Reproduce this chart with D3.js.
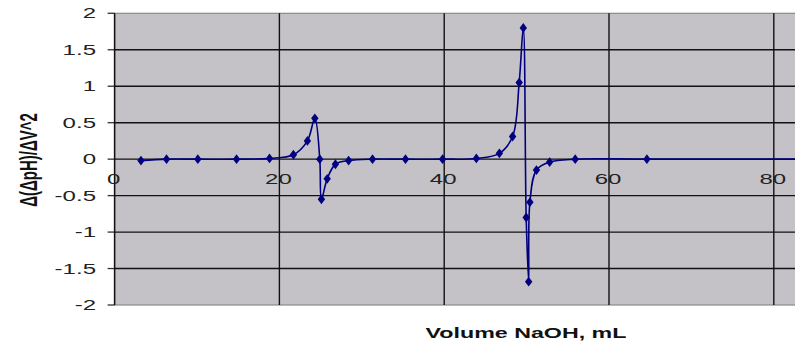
<!DOCTYPE html>
<html>
<head>
<meta charset="utf-8">
<script src="https://cdn.jsdelivr.net/npm/d3@7"></script>
<style>
  html, body { margin: 0; padding: 0; background: #fff; }
  svg { display: block; }
  text { font-family: "Liberation Sans", Arial, sans-serif; }
</style>
</head>
<body>
<svg id="chart" width="795" height="349"></svg>
<script>
// Second derivative of a titration curve: Δ(ΔpH)/ΔV² against volume of NaOH added
const volume = [3.2, 6.3, 10.1, 14.8, 18.8, 21.7, 23.4, 24.3, 24.9, 25.1, 25.8, 26.8, 28.4,
                31.3, 35.3, 39.8, 43.9, 46.7, 48.3, 49.1, 49.6, 49.95, 50.25, 50.4, 51.2,
                52.8, 55.9, 64.6, 90];
const secondDeriv = [-0.02, 0, 0, 0, 0.01, 0.06, 0.25, 0.56, 0, -0.55, -0.27, -0.07, -0.02,
                     0, 0, 0, 0.01, 0.08, 0.31, 1.05, 1.80, -0.80, -1.68, -0.59, -0.15,
                     -0.04, 0, 0, 0];
const xTicks = [0, 20, 40, 60, 80];
const yTicks = [2, 1.5, 1, 0.5, 0, -0.5, -1, -1.5, -2];

const svg = d3.select("#chart");
const plot = { left: 114.6, top: 13.3, bottom: 305, right: 815 };
const stretch = 1.55;

const x = d3.scaleLinear().domain([0, 85]).range([plot.left, plot.right]);
const y = d3.scaleLinear().domain([-2, 2]).range([plot.bottom, plot.top]);

// plot background
svg.append("rect")
  .attr("x", plot.left).attr("y", plot.top)
  .attr("width", plot.right - plot.left).attr("height", plot.bottom - plot.top)
  .attr("fill", "#c4c2c6").attr("stroke", "#8a8a8a").attr("stroke-width", 1.2);

// horizontal gridlines plus left ticks
svg.append("g").selectAll("line")
  .data(yTicks.filter(d => d !== 2 && d !== -2))
  .join("line")
  .attr("x1", plot.left).attr("x2", plot.right)
  .attr("y1", d => y(d)).attr("y2", d => y(d))
  .attr("stroke", "#111").attr("stroke-width", 1.4);

svg.append("g").selectAll("line")
  .data(yTicks)
  .join("line")
  .attr("x1", plot.left - 7).attr("x2", plot.left)
  .attr("y1", d => y(d)).attr("y2", d => y(d))
  .attr("stroke", "#333").attr("stroke-width", 1.3);

// vertical gridlines
svg.append("g").selectAll("line")
  .data(xTicks.filter(d => d > 0))
  .join("line")
  .attr("x1", d => x(d)).attr("x2", d => x(d))
  .attr("y1", plot.top).attr("y2", plot.bottom)
  .attr("stroke", "#111").attr("stroke-width", 1.4);

// value axis line
svg.append("line")
  .attr("x1", plot.left).attr("x2", plot.left)
  .attr("y1", plot.top).attr("y2", plot.bottom)
  .attr("stroke", "#111").attr("stroke-width", 1.5);

// y tick labels
svg.append("g").selectAll("text")
  .data(yTicks)
  .join("text")
  .attr("transform", d => `translate(96,${y(d) + 1}) scale(${stretch},1)`)
  .attr("text-anchor", "end")
  .attr("dominant-baseline", "middle")
  .attr("font-size", 15.5)
  .attr("fill", "#222")
  .text(d => d3.format("")(d).replace("\u2212", "-"));

// x tick labels, sitting just under the zero line
svg.append("g").selectAll("text")
  .data(xTicks)
  .join("text")
  .attr("transform", d => `translate(${x(d) - 1},${y(0) + 25}) scale(${stretch},1)`)
  .attr("text-anchor", "middle")
  .attr("font-size", 15.5)
  .attr("fill", "#222")
  .text(d => d);

// data series
svg.append("clipPath").attr("id", "plotClip")
  .append("rect")
  .attr("x", plot.left).attr("y", plot.top - 6)
  .attr("width", plot.right - plot.left).attr("height", plot.bottom - plot.top + 12);

const pts = volume.map((v, i) => [v, secondDeriv[i]]);
const line = d3.line()
  .x(d => x(d[0])).y(d => y(d[1]))
  .curve(d3.curveCatmullRom.alpha(0.5));

const series = svg.append("g").attr("clip-path", "url(#plotClip)");
series.append("path")
  .attr("d", line(pts))
  .attr("fill", "none")
  .attr("stroke", "#000080")
  .attr("stroke-width", 1.6);

const diamond = d3.symbol().type(d3.symbolDiamond).size(28);
series.selectAll("path.marker")
  .data(pts)
  .join("path")
  .attr("class", "marker")
  .attr("transform", d => `translate(${x(d[0])},${y(d[1])}) scale(1.3,1)`)
  .attr("d", diamond)
  .attr("fill", "#000080");

// axis titles
svg.append("text")
  .attr("transform", `translate(526,338) scale(${stretch},1)`)
  .attr("text-anchor", "middle")
  .attr("font-size", 15)
  .attr("font-weight", "bold")
  .attr("fill", "#111")
  .text("Volume NaOH, mL");

svg.append("text")
  .attr("transform", `translate(37,160) scale(${stretch},1) rotate(-90)`)
  .attr("text-anchor", "middle")
  .attr("font-size", 15)
  .attr("font-weight", "bold")
  .attr("fill", "#111")
  .text("Δ(ΔpH)/ΔV^2");
</script>
</body>
</html>
